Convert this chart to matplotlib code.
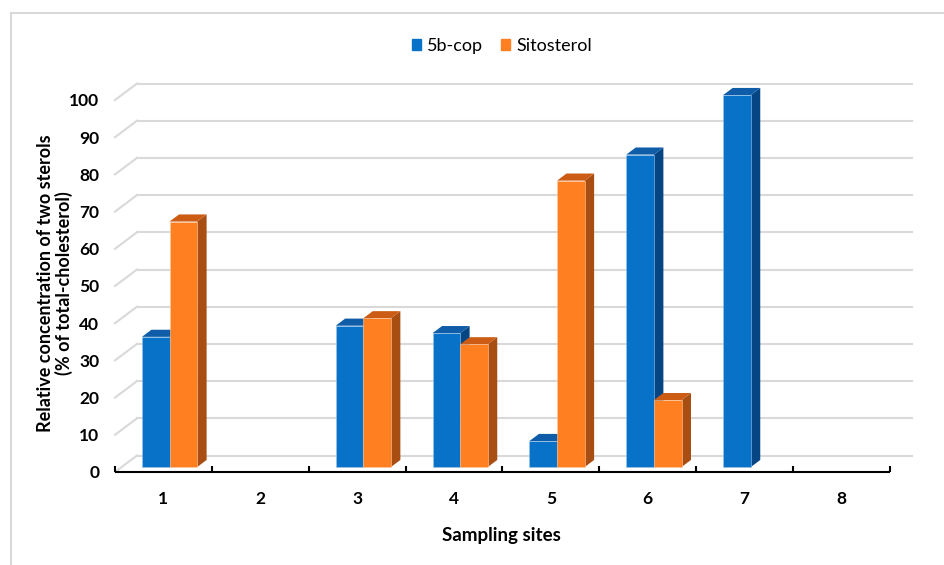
import matplotlib
matplotlib.use('Agg')
import matplotlib.pyplot as plt
from matplotlib.patches import Patch
from matplotlib.lines import Line2D

plt.rcParams['font.family'] = ['Lato', 'DejaVu Sans']

# Daten
sites = ['1', '2', '3', '4', '5', '6', '7', '8']
cop = [35, 0, 38, 36, 7, 84, 100, 0]
sito = [66, 0, 40, 33, 77, 18, 0, 0]
yticks = [0, 10, 20, 30, 40, 50, 60, 70, 80, 90, 100]

# Farben (Vorderseite, Oberseite, Seite)
blue = ('#0872C8', '#0F5CA8', '#064584')
orange = ('#FF7F21', '#CC5C14', '#A84E12')

# pseudo-3D Tiefe in Datenkoordinaten
DX = 22 / 96.875
DY = 16.5 / 3.72
d0, d1 = 0.3, 0.73
bw = 0.285
grid_col = '#D9D9D9'

fig = plt.figure(figsize=(9.45, 5.65), dpi=100)
ax = fig.add_axes([105 / 945, (565 - 480) / 565, 820 / 945, 405 / 565])
ax.set_xlim((105 - 115) / 96.875, (925 - 115) / 96.875)
ax.set_ylim((472 - 480) / 3.72, (472 - 75) / 3.72)

# Rückwand-Gitterlinien
n = len(sites)
for v in yticks:
    ax.plot([DX, n + DX], [v + DY, v + DY], color=grid_col, lw=1.5, zorder=1)
    ax.plot([0, DX], [v, v + DY], color=grid_col, lw=1.5, zorder=1)

# x-Achse mit Teilstrichen
ax.plot([0, n], [0, 0], color='black', lw=1.5, zorder=2, solid_capstyle='butt')
ax.vlines(range(n + 1), 0, 1.6, color='black', lw=1.5, zorder=2)


def bar3d(x0, val, cols, z):
    fx0 = x0 + d0 * DX
    fx1 = fx0 + bw
    base = d0 * DY
    top = base + val
    ddx = (d1 - d0) * DX
    ddy = (d1 - d0) * DY
    ax.fill([fx1, fx1, fx1 + ddx, fx1 + ddx], [base, top, top + ddy, base + ddy],
            color=cols[2], lw=0, zorder=z)
    ax.fill([fx0, fx1, fx1 + ddx, fx0 + ddx], [top, top, top + ddy, top + ddy],
            color=cols[1], lw=0, zorder=z)
    ax.bar(fx0, val, width=bw, bottom=base, align='edge', color=cols[0],
           edgecolor='#9CC3E8' if cols is blue else '#FFC9A0', lw=0.4, zorder=z + 0.5)


z = 3
for i in range(n):
    if cop[i] > 0:
        bar3d(i + 0.21, cop[i], blue, z)
    z += 1
    if sito[i] > 0:
        bar3d(i + 0.21 + bw, sito[i], orange, z)
    z += 1

for s in ax.spines.values():
    s.set_visible(False)

ax.set_yticks(yticks)
ax.set_yticklabels([str(t) for t in yticks], fontweight='bold', fontsize=12.5)
ax.set_xticks([i + 0.5 for i in range(n)])
ax.set_xticklabels(sites, fontweight='bold', fontsize=12.5)
ax.tick_params(axis='y', length=0, pad=4)
ax.tick_params(axis='x', length=0, pad=8)

fig.text(501 / 945, 1 - 535 / 565, 'Sampling sites', ha='center', va='center',
         fontweight='bold', fontsize=13.5)
fig.text(55 / 945, 1 - 283 / 565,
         'Relative concentration of two sterols\n(% of total-cholesterol)',
         ha='center', va='center', rotation=90, multialignment='center',
         fontweight='bold', fontsize=13, linespacing=1.1)

handles = [Patch(color=blue[0], label='5b-cop'), Patch(color=orange[0], label='Sitosterol')]
fig.legend(handles=handles, loc='center', bbox_to_anchor=(502 / 945, 1 - 46 / 565),
           ncol=2, frameon=False, fontsize=13, handlelength=0.5, handleheight=0.5,
           handletextpad=0.35, columnspacing=1.0)

# Rahmen
fig.add_artist(Line2D([11 / 945, 11 / 945], [0, 1 - 13 / 565], color=grid_col, lw=1.5))
fig.add_artist(Line2D([11 / 945, 1], [1 - 13 / 565, 1 - 13 / 565], color=grid_col, lw=1.5))

fig.savefig('out.png', dpi=100)
